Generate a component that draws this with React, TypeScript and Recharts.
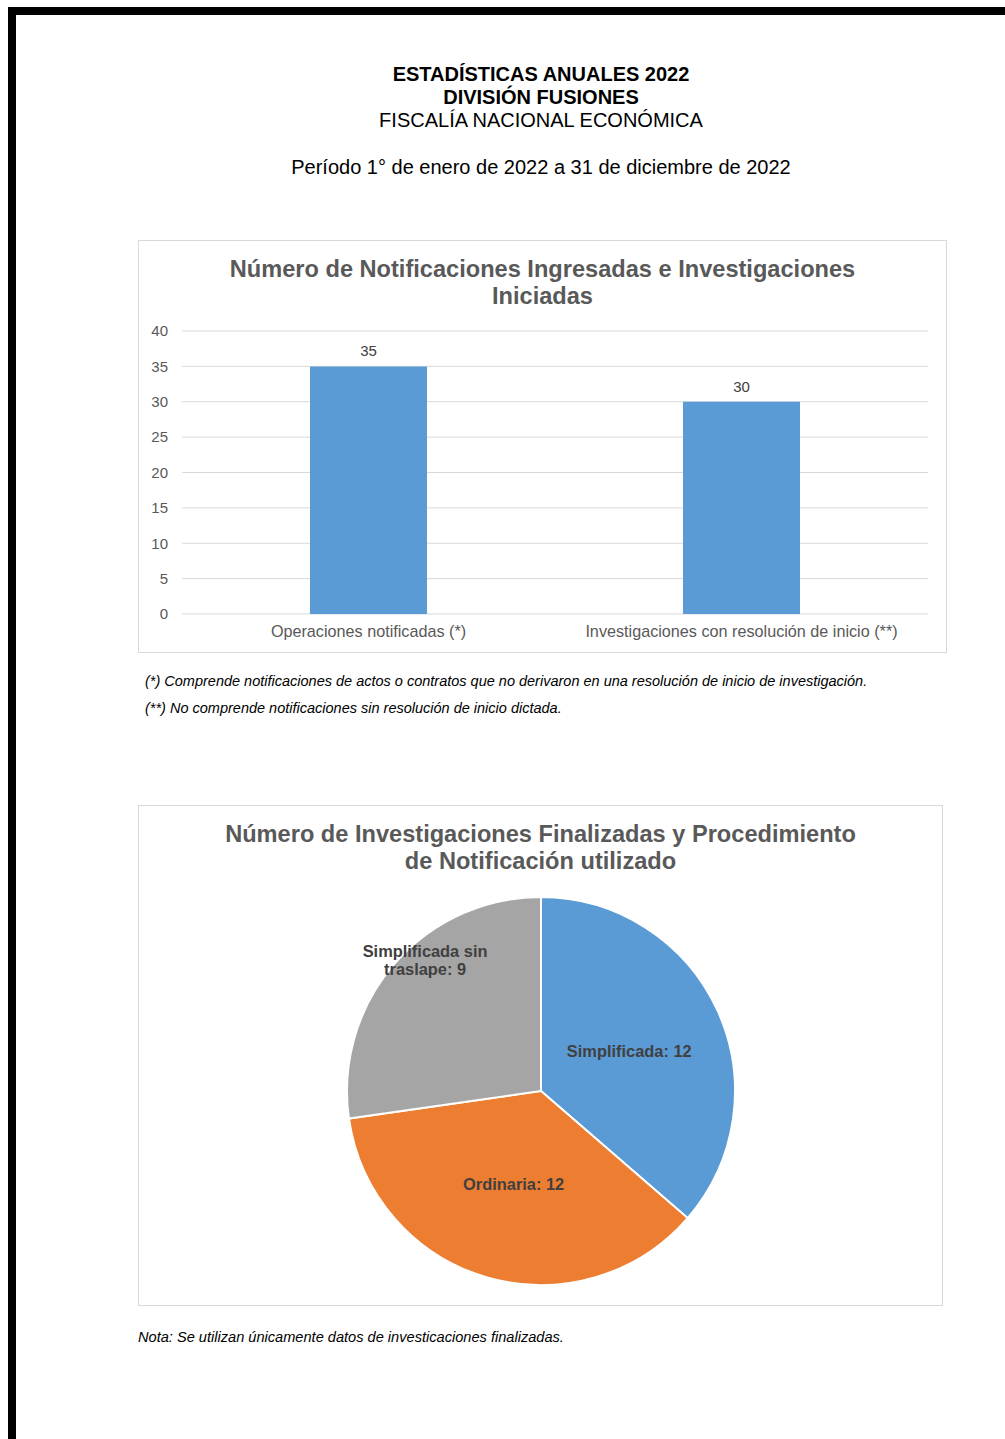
import React from "react";
import {
  BarChart,
  Bar,
  XAxis,
  YAxis,
  CartesianGrid,
  LabelList,
  PieChart,
  Pie,
  Cell,
} from "recharts";

const barCategories = [
  "Operaciones notificadas (*)",
  "Investigaciones con resolución de inicio (**)",
];
const barValues = [35, 30];
const yTicks = [0, 5, 10, 15, 20, 25, 30, 35, 40];

const pieNames = ["Simplificada", "Ordinaria", "Simplificada sin traslape"];
const pieValues = [12, 12, 9];

const FONT = "'Liberation Sans', Arial, sans-serif";
const pieColors = ["#5B9BD5", "#ED7D31", "#A5A5A5"];
// where each pie label sits: share of the radius, and a small turn (degrees)
const labelRadius = [0.5, 0.5, 0.9];
const labelTurn = [0, 0, -7.5];

const RADIAN = Math.PI / 180;

function wrapLabel(text: string) {
  if (text.length <= 20) return [text];
  const words = text.split(" ");
  const first: string[] = [];
  let i = 0;
  while (i < words.length && [...first, words[i]].join(" ").length <= 16) {
    first.push(words[i]);
    i++;
  }
  return [first.join(" "), words.slice(i).join(" ")];
}

function PieLabel(props: any) {
  const { cx, cy, midAngle, outerRadius, name, value, index } = props;
  const r = outerRadius * labelRadius[index];
  const a = (midAngle + labelTurn[index]) * RADIAN;
  const x = cx + r * Math.cos(-a);
  const y = cy + r * Math.sin(-a);
  const lines = wrapLabel(`${name}: ${value}`);
  const lh = 18;
  const y0 = y - ((lines.length - 1) * lh) / 2;
  return (
    <text
      x={x}
      y={y0}
      textAnchor="middle"
      dominantBaseline="central"
      fill="#404040"
      fontSize={16.4}
      fontWeight="bold"
      fontFamily={FONT}
    >
      {lines.map((l, k) => (
        <tspan key={k} x={x} y={y0 + k * lh}>
          {l}
        </tspan>
      ))}
    </text>
  );
}

const boxTitle: React.CSSProperties = {
  position: "absolute",
  left: 0,
  right: 0,
  top: 15,
  textAlign: "center",
  fontFamily: FONT,
  fontWeight: "bold",
  fontSize: 23.6,
  lineHeight: "27px",
  color: "#595959",
  pointerEvents: "none",
};

export default function App() {
  const barData = barCategories.map((c, i) => ({ name: c, value: barValues[i] }));
  const pieData = pieNames.map((n, i) => ({ name: n, value: pieValues[i] }));

  return (
    <div
      style={{
        position: "absolute",
        left: 0,
        top: 0,
        width: 1005,
        height: 1439,
        background: "#fff",
        fontFamily: FONT,
        overflow: "hidden",
      }}
    >
      {/* page frame */}
      <div
        style={{
          position: "absolute",
          left: 8,
          top: 7,
          width: 1005,
          height: 1439,
          borderTop: "8px solid #000",
          borderLeft: "8px solid #000",
        }}
      />

      {/* header */}
      <div
        style={{
          position: "absolute",
          left: 0,
          width: 1082,
          top: 63,
          textAlign: "center",
          fontSize: 20,
          lineHeight: "23px",
          color: "#000",
        }}
      >
        <div style={{ fontWeight: "bold" }}>ESTADÍSTICAS ANUALES 2022</div>
        <div style={{ fontWeight: "bold" }}>DIVISIÓN FUSIONES</div>
        <div>FISCALÍA NACIONAL ECONÓMICA</div>
        <div style={{ marginTop: 24 }}>
          Período 1° de enero de 2022 a 31 de diciembre de 2022
        </div>
      </div>

      {/* bar chart */}
      <div
        style={{
          position: "absolute",
          left: 138,
          top: 240,
          width: 809,
          height: 413,
          border: "1px solid #D9D9D9",
          boxSizing: "border-box",
        }}
      >
        <BarChart
          width={807}
          height={411}
          data={barData}
          margin={{ top: 90, right: 18, bottom: 0, left: 0 }}
        >
          <CartesianGrid vertical={false} stroke="#D9D9D9" />
          <XAxis
            dataKey="name"
            axisLine={false}
            tickLine={false}
            tickMargin={5}
            height={38}
            interval={0}
            tick={{ fill: "#595959", fontSize: 16.2, fontFamily: FONT }}
          />
          <YAxis
            domain={[0, 40]}
            ticks={yTicks}
            width={43}
            axisLine={false}
            tickLine={false}
            tickMargin={8}
            tick={{ fill: "#595959", fontSize: 15, fontFamily: FONT }}
          />
          <Bar dataKey="value" fill="#5B9BD5" barSize={117} isAnimationActive={false}>
            <LabelList
              dataKey="value"
              position="top"
              offset={10}
              fill="#404040"
              fontSize={15}
              fontFamily={FONT}
            />
          </Bar>
        </BarChart>
        <div style={boxTitle}>
          Número de Notificaciones Ingresadas e Investigaciones
          <br />
          Iniciadas
        </div>
      </div>

      <div
        style={{
          position: "absolute",
          left: 145,
          top: 668,
          fontSize: 14.5,
          fontStyle: "italic",
          lineHeight: "27px",
          color: "#000",
        }}
      >
        <div>
          (*) Comprende notificaciones de actos o contratos que no derivaron en una
          resolución de inicio de investigación.
        </div>
        <div>(**) No comprende notificaciones sin resolución de inicio dictada.</div>
      </div>

      {/* pie chart */}
      <div
        style={{
          position: "absolute",
          left: 138,
          top: 805,
          width: 805,
          height: 501,
          border: "1px solid #D9D9D9",
          boxSizing: "border-box",
        }}
      >
        <PieChart width={803} height={499} margin={{ top: 0, right: 0, bottom: 0, left: 0 }}>
          <Pie
            data={pieData}
            dataKey="value"
            nameKey="name"
            cx={402}
            cy={285}
            outerRadius={194}
            startAngle={90}
            endAngle={-270}
            stroke="#fff"
            strokeWidth={2}
            label={PieLabel}
            labelLine={false}
            isAnimationActive={false}
          >
            {pieData.map((d, i) => (
              <Cell key={d.name} fill={pieColors[i]} />
            ))}
          </Pie>
        </PieChart>
        <div style={boxTitle}>
          Número de Investigaciones Finalizadas y Procedimiento
          <br />
          de Notificación utilizado
        </div>
      </div>

      <div
        style={{
          position: "absolute",
          left: 138,
          top: 1329,
          fontSize: 14.6,
          fontStyle: "italic",
          color: "#000",
        }}
      >
        Nota: Se utilizan únicamente datos de investicaciones finalizadas.
      </div>
    </div>
  );
}
